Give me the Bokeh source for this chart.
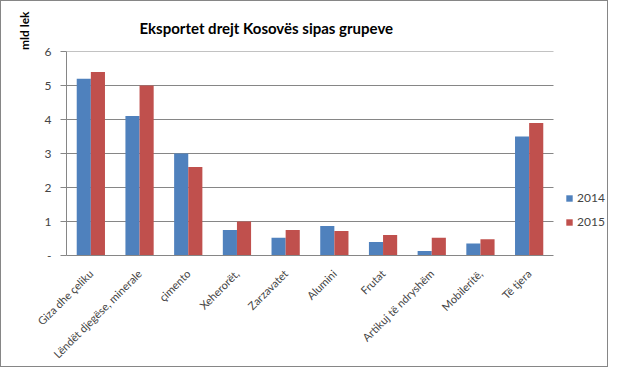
import math
from bokeh.plotting import figure
from bokeh.models import (ColumnDataSource, Legend, LegendItem, FixedTicker,
                          CustomJSTickFormatter, Range1d, Title)
from bokeh.transform import dodge
from bokeh.embed import file_html
from bokeh.resources import INLINE

categories = ["Giza dhe çeliku", "Lëndët djegëse, minerale", "çimento", "Xeherorët,",
              "Zarzavatet", "Alumini", "Frutat", "Artikuj të ndryshëm", "Mobileritë,", "Të tjera"]
v2014 = [5.2, 4.1, 3.0, 0.75, 0.52, 0.87, 0.40, 0.13, 0.35, 3.5]
v2015 = [5.4, 5.0, 2.6, 1.0, 0.75, 0.72, 0.60, 0.52, 0.48, 3.9]
y_ticks = [0, 1, 2, 3, 4, 5, 6]

FONT = "Lato"
GRID = "#868686"

idx = list(range(len(categories)))
n = len(categories)
src = ColumnDataSource(dict(idx=idx, cat=categories, a=v2014, b=v2015))

# frame spans to the right edge so that the legend (outside the category area) is not clipped
x_end = -0.5 + n * 543.0 / 487.0
p = figure(x_range=Range1d(-0.5, x_end), y_range=Range1d(0, 6), width=608, height=367,
           output_backend="svg", toolbar_location=None,
           min_border_left=65, min_border_right=0, min_border_top=50, min_border_bottom=110)
p.styles = {"border": "1px solid #868686", "box-sizing": "border-box"}

# horizontal gridlines limited to the category area
grid_src = ColumnDataSource(dict(y=y_ticks[1:], x0=[-0.5] * (len(y_ticks) - 1),
                                 x1=[n - 0.5] * (len(y_ticks) - 1)))
p.segment(x0="x0", x1="x1", y0="y", y1="y", source=grid_src, line_color=GRID, line_width=1)

r1 = p.vbar(x=dodge("idx", -0.145), top="a", width=0.29, source=src,
            fill_color="#4F81BD", line_color=None)
r2 = p.vbar(x=dodge("idx", 0.145), top="b", width=0.29, source=src,
            fill_color="#C0504D", line_color=None)

p.title.text = "Eksportet drejt Kosovës sipas grupeve"
p.title.align = "left"
p.title.offset = 73
p.title.standoff = 30
p.title.text_font = FONT
p.title.text_font_size = "15px"
p.title.text_font_style = "bold"
p.title.text_color = "#000000"

p.outline_line_color = None
p.xgrid.grid_line_color = None
p.ygrid.grid_line_color = None

p.yaxis.ticker = FixedTicker(ticks=y_ticks)
p.yaxis.formatter = CustomJSTickFormatter(code="return tick == 0 ? '-' : tick.toString();")
p.yaxis.axis_line_color = GRID
p.yaxis.major_tick_line_color = GRID
p.yaxis.major_tick_out = 6
p.yaxis.major_tick_in = 0
p.yaxis.minor_tick_line_color = None
p.yaxis.major_label_text_font = FONT
p.yaxis.major_label_text_font_size = "12px"
p.yaxis.major_label_standoff = 9

p.xaxis.ticker = FixedTicker(ticks=idx)
p.xaxis.major_label_overrides = {i: c for i, c in zip(idx, categories)}
p.xaxis.bounds = (-0.5, n - 0.5)
p.xaxis.axis_line_color = GRID
p.xaxis.major_tick_line_color = None
p.xaxis.minor_tick_line_color = None
p.xaxis.major_label_orientation = math.pi / 4
p.xaxis.major_label_text_font = FONT
p.xaxis.major_label_text_font_size = "11px"
p.xaxis.major_label_standoff = 10

# y-axis unit label, placed at the top of the left side
p.add_layout(Title(text="mld lek", align="right", offset=-40, standoff=20,
                   text_font=FONT, text_font_size="12px", text_font_style="bold",
                   text_color="#000000"), "left")

legend = Legend(items=[LegendItem(label="2014", renderers=[r1]),
                       LegendItem(label="2015", renderers=[r2])],
                location=(499, 26), border_line_color=None, background_fill_alpha=0,
                label_text_font=FONT, label_text_font_size="12px",
                glyph_width=8, glyph_height=8, spacing=9, padding=2, label_standoff=4,
                margin=0)
p.add_layout(legend, "center")

open("out.html", "w").write(file_html(p, INLINE))
